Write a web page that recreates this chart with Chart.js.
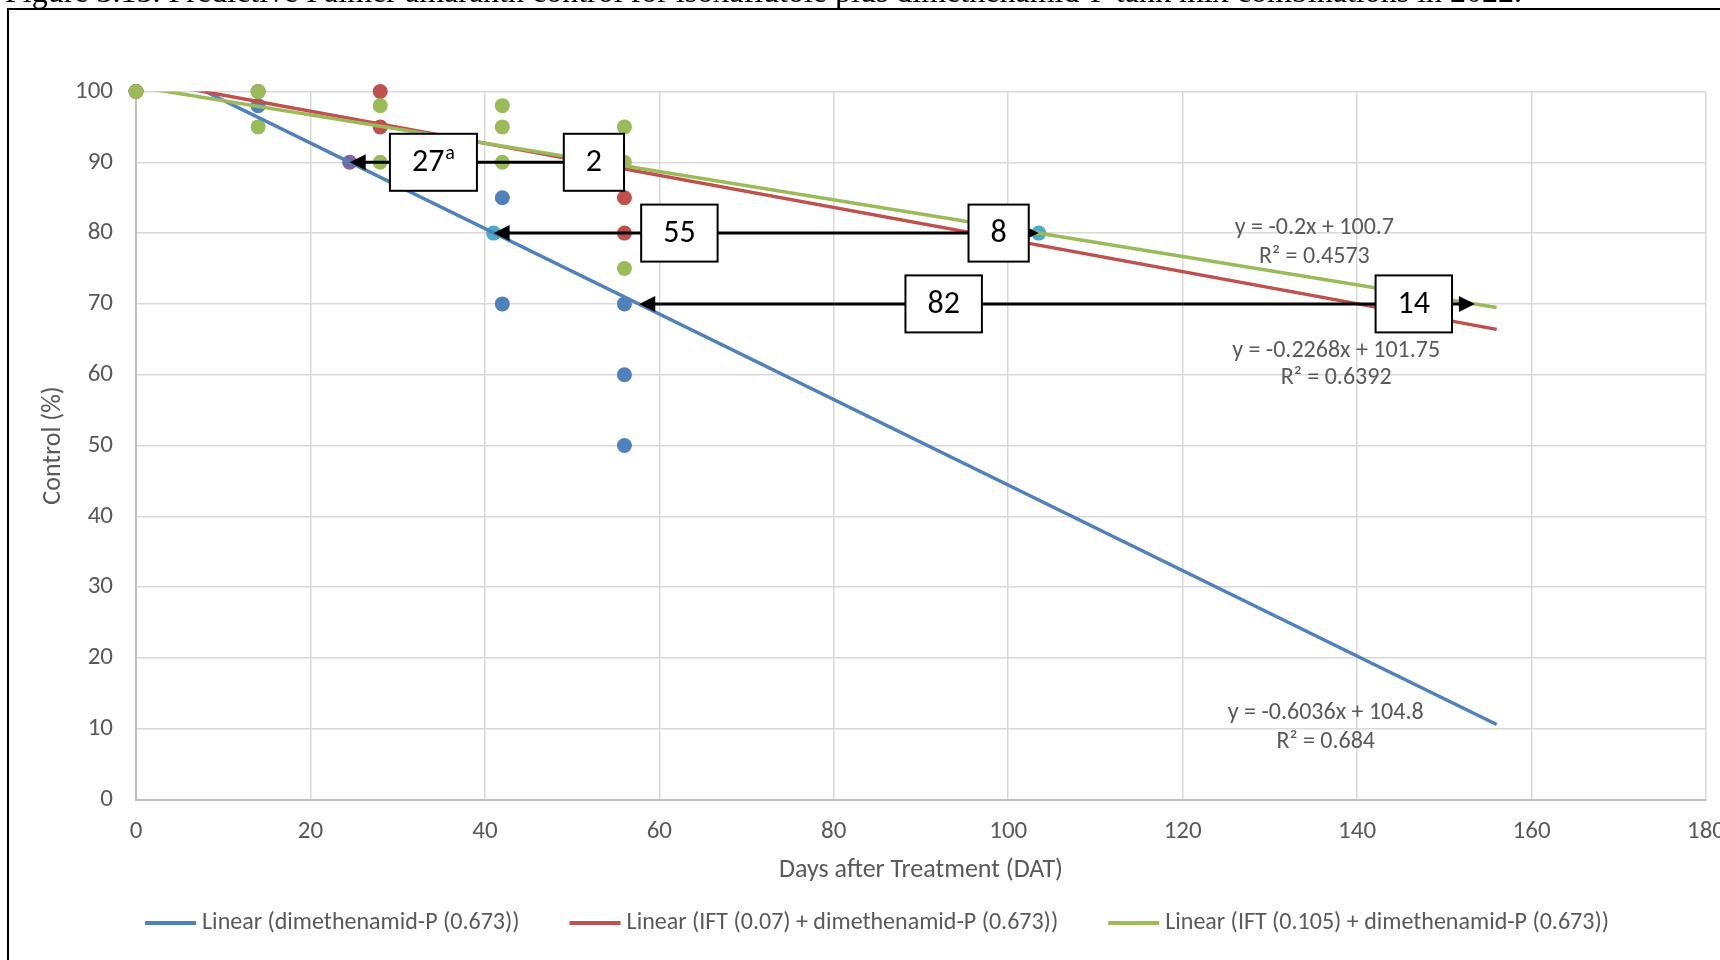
<!DOCTYPE html>
<html>
<head>
<meta charset="utf-8">
<title>Palmer amaranth control</title>
<script src="https://cdn.jsdelivr.net/npm/chart.js@4.4.1/dist/chart.umd.min.js"></script>
<style>
  html, body { margin:0; padding:0; background:#fff; }
  #wrap { width:1720px; height:960px; }
</style>
</head>
<body>
<div id="wrap"><canvas id="chart" width="1720" height="960"></canvas></div>
<script>
// ===== data =====
const captionText = 'Figure 3.15. Predictive Palmer amaranth control for isoxaflutole plus dimethenamid-P tank mix combinations in 2022.';

// observed control (%) by days after treatment
const dmpDays    = [0, 14, 42, 42, 56, 56, 56];
const dmpCtrl    = [100, 98, 85, 70, 70, 60, 50];
const ift07Days  = [0, 14, 28, 28, 56, 56];
const ift07Ctrl  = [100, 100, 100, 95, 85, 80];
const ift105Days = [0, 14, 14, 28, 28, 42, 42, 42, 56, 56, 56];
const ift105Ctrl = [100, 100, 95, 98, 90, 98, 95, 90, 95, 90, 75];

// linear trendlines (end points)
const trendDays   = [0, 156];
const dmpTrend    = [104.8, 10.6];
const ift07Trend  = [101.75, 66.4];
const ift105Trend = [100.7, 69.5];

// where the trendlines reach 90 / 80 % control
const hit90Days = [24.5];
const hit90Ctrl = [90];
const hit80Days = [41, 103.5];
const hit80Ctrl = [80, 80];

// gap arrows: level, from (dimethenamid-P) and to (IFT + dimethenamid-P)
const gapLevel = [90, 80, 70];
const gapFrom  = [24.5, 41, 57.7];
const gapTo    = [53.5, 103.5, 153.5];

// boxed numbers on the arrows
const boxText = ['27', '2', '55', '8', '82', '14'];
const boxSup  = ['a', '', '', '', '', ''];
const boxDay  = [34.1, 52.5, 62.3, 98.9, 92.6, 146.5];
const boxCtrl = [90, 90, 80, 80, 70, 70];

// trendline equations
const eqText = ['y = -0.2x + 100.7', 'R\u00b2 = 0.4573', 'y = -0.2268x + 101.75', 'R\u00b2 = 0.6392', 'y = -0.6036x + 104.8', 'R\u00b2 = 0.684'];
const eqDay  = [135.1, 135.1, 137.6, 137.6, 136.4, 136.4];
const eqCtrl = [80.7, 76.6, 63.3, 59.5, 12.2, 8.1];

const BLUE = '#4f81bd', RED = '#c0504d', GREEN = '#9bbb59', PURPLE = '#8064a2', CYAN = '#4bacc6';
const GREY_TXT = '#595959';
const FONT = 'Carlito, Lato, "Open Sans", sans-serif';

const pts = (xs, ys) => xs.map((x, i) => ({x, y: ys[i]}));

Chart.defaults.font.family = FONT;
Chart.defaults.color = GREY_TXT;

// ===== custom drawing: caption, frame, arrows, boxes, equations, legend =====
function arrowHead(c, tipX, y, dir){
  c.beginPath();
  c.moveTo(tipX, y);
  c.lineTo(tipX - dir*16, y - 8);
  c.lineTo(tipX - dir*16, y + 8);
  c.closePath();
  c.fill();
}

const decor = {
  id: 'decor',
  beforeDraw(chart){
    const c = chart.ctx;
    c.save();
    c.fillStyle = '#fff';
    c.fillRect(0, 0, chart.width, chart.height);
    c.fillStyle = '#000';
    c.font = '32px "Liberation Serif", "Times New Roman", serif';
    c.textBaseline = 'alphabetic';
    c.textAlign = 'left';
    c.fillText(captionText, 5, 2);
    c.strokeStyle = '#000';
    c.lineWidth = 2;
    c.strokeRect(8, 9, chart.width + 20, chart.height + 20);
    c.restore();
  },
  afterDatasetsDraw(chart){
    const c = chart.ctx, xs = chart.scales.x, ys = chart.scales.y;
    c.save();
    // arrows
    c.strokeStyle = '#000';
    c.fillStyle = '#000';
    c.lineWidth = 3;
    gapLevel.forEach((lvl, i) => {
      const y = ys.getPixelForValue(lvl);
      const x1 = xs.getPixelForValue(gapFrom[i]);
      const x2 = xs.getPixelForValue(gapTo[i]);
      c.beginPath();
      c.moveTo(x1 + 10, y);
      c.lineTo(x2 - 10, y);
      c.stroke();
      arrowHead(c, x1, y, -1);
      arrowHead(c, x2, y, 1);
    });
    // boxes
    boxText.forEach((t, i) => {
      const cx = xs.getPixelForValue(boxDay[i]);
      const cy = ys.getPixelForValue(boxCtrl[i]);
      c.font = '32px ' + FONT;
      const wMain = c.measureText(t).width;
      c.font = '20px ' + FONT;
      const wSup = boxSup[i] ? c.measureText(boxSup[i]).width + 1 : 0;
      const w = wMain + wSup + 44, h = 57;
      c.fillStyle = '#fff';
      c.fillRect(cx - w/2, cy - h/2, w, h);
      c.lineWidth = 2;
      c.strokeStyle = '#000';
      c.strokeRect(cx - w/2, cy - h/2, w, h);
      c.fillStyle = '#000';
      c.textBaseline = 'middle';
      c.textAlign = 'left';
      const x0 = cx - (wMain + wSup)/2;
      c.font = '32px ' + FONT;
      c.fillText(t, x0, cy + 1);
      if(boxSup[i]){
        c.font = '20px ' + FONT;
        c.fillText(boxSup[i], x0 + wMain + 1, cy - 8);
      }
    });
    // equations
    c.fillStyle = GREY_TXT;
    c.font = '24px ' + FONT;
    c.textAlign = 'center';
    c.textBaseline = 'middle';
    eqText.forEach((t, i) => {
      c.fillText(t, xs.getPixelForValue(eqDay[i]), ys.getPixelForValue(eqCtrl[i]));
    });
    c.restore();
  },
  afterDraw(chart){
    // legend for the trendlines only
    const c = chart.ctx;
    const items = chart.data.datasets.filter(d => d.isTrend);
    c.save();
    c.font = '24px ' + FONT;
    c.textBaseline = 'middle';
    c.textAlign = 'left';
    const lineW = 51, gapTxt = 6, gapItem = 50, y = 923;
    const widths = items.map(d => lineW + gapTxt + c.measureText(d.label).width);
    const total = widths.reduce((a, b) => a + b, 0) + gapItem*(items.length - 1);
    let x = 877 - total/2;
    items.forEach((d, i) => {
      c.fillStyle = d.borderColor;
      c.fillRect(x, y - 2, lineW, 4);
      c.fillStyle = GREY_TXT;
      c.fillText(d.label, x + lineW + gapTxt, y);
      x += widths[i] + gapItem;
    });
    c.restore();
  }
};

const trend = (label, data, color, order) => ({
  label, data, isTrend: true, showLine: true, borderColor: color, backgroundColor: color,
  borderWidth: 3.5, pointRadius: 0, order
});
const dots = (label, data, color, order) => ({
  label, data, showLine: false, backgroundColor: color, borderWidth: 0,
  pointRadius: 7.5, clip: false, order
});

new Chart(document.getElementById('chart'), {
  type: 'scatter',
  data: {
    datasets: [
      trend('Linear (dimethenamid-P (0.673))', pts(trendDays, dmpTrend), BLUE, 3),
      trend('Linear (IFT (0.07) + dimethenamid-P (0.673))', pts(trendDays, ift07Trend), RED, 2),
      trend('Linear (IFT (0.105) + dimethenamid-P (0.673))', pts(trendDays, ift105Trend), GREEN, 1),
      dots('90% point', pts(hit90Days, hit90Ctrl), PURPLE, 4),
      dots('80% point', pts(hit80Days, hit80Ctrl), CYAN, 4),
      dots('dimethenamid-P (0.673)', pts(dmpDays, dmpCtrl), BLUE, 7),
      dots('IFT (0.07) + dimethenamid-P (0.673)', pts(ift07Days, ift07Ctrl), RED, 6),
      dots('IFT (0.105) + dimethenamid-P (0.673)', pts(ift105Days, ift105Ctrl), GREEN, 5)
    ]
  },
  options: {
    responsive: false,
    animation: false,
    layout: { padding: { left: 0, top: 91.5, right: 14, bottom: 0 } },
    plugins: { legend: { display: false }, tooltip: { enabled: false } },
    scales: {
      x: {
        type: 'linear', min: 0, max: 180,
        ticks: { stepSize: 20, padding: 17, color: GREY_TXT, font: { size: 25 } },
        grid: { color: '#d9d9d9', lineWidth: 1.5, drawTicks: false },
        border: { color: '#bfbfbf', width: 2 },
        title: { display: true, text: 'Days after Treatment (DAT)', color: GREY_TXT,
                 font: { size: 26 }, padding: { top: 0, bottom: 74 } },
        afterFit(s){ s.height = 160.5; s.paddingLeft = 0; s.paddingRight = 0; }
      },
      y: {
        min: 0, max: 100,
        ticks: { stepSize: 10, padding: 23, color: GREY_TXT, font: { size: 25 } },
        grid: { color: '#d9d9d9', lineWidth: 1.5, drawTicks: false },
        border: { color: '#bfbfbf', width: 2 },
        title: { display: true, text: 'Control (%)', color: GREY_TXT,
                 font: { size: 26 }, padding: { top: 38, bottom: 0 } },
        afterFit(s){ s.width = 136; s.paddingTop = 0; s.paddingBottom = 0; }
      }
    }
  },
  plugins: [decor]
});
</script>
</body>
</html>
